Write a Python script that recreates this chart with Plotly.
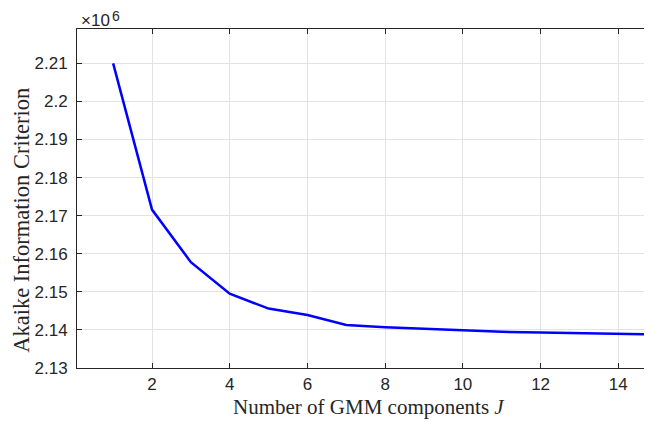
import plotly.graph_objects as go

# Data
components = [1, 2, 3, 4, 5, 6, 7, 8, 9, 10, 11, 12, 13, 14, 15]
aic = [2.2100e6, 2.1716e6, 2.1578e6, 2.1495e6, 2.1456e6, 2.1439e6, 2.1413e6,
       2.1407e6, 2.1403e6, 2.1399e6, 2.1395e6, 2.1393e6, 2.1391e6, 2.1389e6, 2.1388e6]

x_ticks = [2, 4, 6, 8, 10, 12, 14]
y_ticks = [2.13e6, 2.14e6, 2.15e6, 2.16e6, 2.17e6, 2.18e6, 2.19e6, 2.20e6, 2.21e6]
y_tick_labels = ["2.13", "2.14", "2.15", "2.16", "2.17", "2.18", "2.19", "2.2", "2.21"]

AX = "#262626"
GRID = "#e3e3e3"
SANS = "Liberation Sans, Arial, sans-serif"
SERIF = "Liberation Serif, Times New Roman, serif"

fig = go.Figure()
fig.add_trace(go.Scatter(x=components, y=aic, mode="lines",
                         line=dict(color="#0000ff", width=2.5),
                         showlegend=False, hoverinfo="skip"))

# The page body adds an 8px margin, so the figure is 8px smaller than the window
fig.update_layout(
    width=644, height=414,
    margin=dict(l=69, r=0, t=21, b=54),
    paper_bgcolor="white", plot_bgcolor="white",
    font=dict(family=SANS, size=17, color=AX),
    xaxis=dict(range=[0.070, 14.867], tickvals=x_ticks,
               ticks="inside", ticklen=5, tickcolor=AX, tickwidth=1,
               showline=True, linecolor=AX, linewidth=1, mirror="ticks",
               showgrid=True, gridcolor=GRID, gridwidth=1, zeroline=False,
               ticklabelstandoff=1,
               tickfont=dict(family=SANS, size=17, color=AX)),
    yaxis=dict(range=[2.13e6, 2.21903e6], tickvals=y_ticks, ticktext=y_tick_labels,
               ticks="inside", ticklen=5, tickcolor=AX, tickwidth=1,
               showline=True, linecolor=AX, linewidth=1,
               showgrid=True, gridcolor=GRID, gridwidth=1, zeroline=False,
               ticklabelstandoff=5,
               tickfont=dict(family=SANS, size=17, color=AX)),
    annotations=[
        dict(text="Number of GMM components <i>J</i>", xref="paper", yref="paper",
             x=0.507, y=-0.116, xanchor="center", yanchor="middle", showarrow=False,
             font=dict(family=SERIF, size=21, color=AX)),
        dict(text="Akaike Information Criterion", xref="paper", yref="paper",
             x=-0.097, y=0.435, xanchor="center", yanchor="middle", showarrow=False,
             textangle=-90,
             font=dict(family=SERIF, size=22.5, color=AX)),
        dict(text="×10", xref="paper", yref="paper",
             x=0.0035, y=1.0236, xanchor="left", yanchor="middle", showarrow=False,
             font=dict(family=SANS, size=17, color=AX)),
        dict(text="6", xref="paper", yref="paper",
             x=0.0574, y=1.0384, xanchor="left", yanchor="middle", showarrow=False,
             font=dict(family=SANS, size=14, color=AX)),
    ],
)

fig.write_html("out.html")
